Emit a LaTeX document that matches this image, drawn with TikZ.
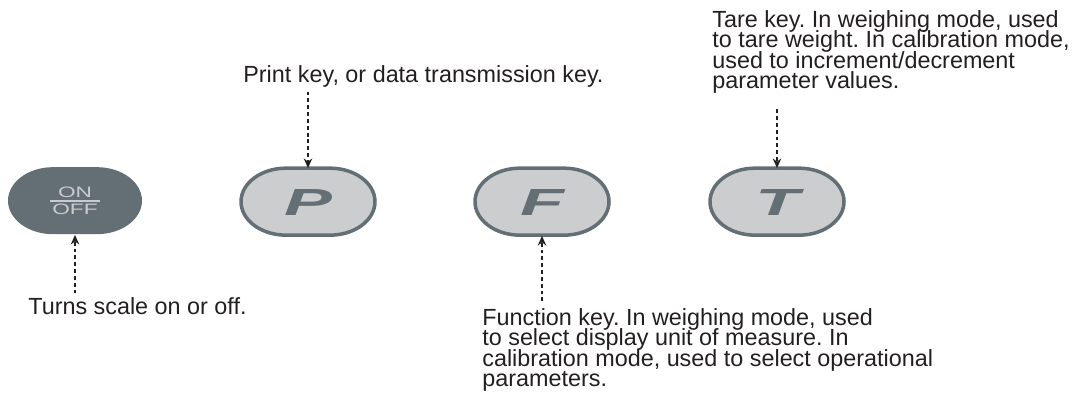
\documentclass[tikz,border=0pt]{standalone}
\usepackage{fontspec}
\setmainfont{Liberation Sans}
\newfontfamily\keyfont[FakeStretch=1.9]{Liberation Sans Bold Italic}
\newfontfamily\switchfont[FakeStretch=1.5]{Liberation Sans}
\usetikzlibrary{arrows.meta,calc,positioning}
\pgfdeclarelayer{background}
\pgfsetlayers{background,main}
\definecolor{keydark}{RGB}{100,111,117}
\definecolor{keylight}{RGB}{204,205,207}
\definecolor{keylabel}{RGB}{200,204,206}
\definecolor{inkblack}{RGB}{35,31,32}
\newcommand\notefont{\fontsize{13.3}{11.7}\selectfont\lineskiplimit=-\maxdimen\frenchspacing}

\begin{document}
\begin{tikzpicture}[x=0.02cm, y=-0.02cm,
    keynode/.style={minimum width=2.68cm, minimum height=1.34cm, inner sep=0pt},
    keysolid/.style={fill=keydark},
    keyrim/.style={fill=keylight, draw=keydark, line width=2pt},
    keyletter/.style={keynode, text=keydark, font=\keyfont\fontsize{21.5}{21.5}\selectfont},
    note/.style={anchor=north west, inner sep=0pt, align=left, text=inkblack, font=\notefont},
    callout/.style={draw=inkblack, line width=0.85pt, dash pattern=on 2.2pt off 1.7pt,
        -{Stealth[length=5.5pt, width=4.8pt, inset=1.8pt]}}]
    \useasboundingbox (0,0) rectangle (1081,397);

    % Keys
    \node[keynode, text=keylabel, align=center, font=\switchfont\fontsize{8.6}{8.6}\selectfont]
        (onoff) at (75,201) {ON\\[-6pt]\rule{1cm}{0.9pt}\\[-1.2pt]OFF};
    \node[keyletter] (print) at (308,202) {P};
    \node[keyletter] (func) at (542,202) {F};
    \node[keyletter] (tare) at (777,202) {T};

    % Key outlines (behind the letters)
    \begin{pgfonlayer}{background}
        \foreach \k/\s in {onoff/keysolid, print/keyrim, func/keyrim, tare/keyrim}
            \path[\s] ($(\k.north)+(-0.44cm,0)$) -- ++(0.88cm,0)
                arc[start angle=90, end angle=-90, x radius=0.9cm, y radius=0.67cm]
                -- ++(-0.88cm,0)
                arc[start angle=270, end angle=90, x radius=0.9cm, y radius=0.67cm] -- cycle;
    \end{pgfonlayer}

    % Notes
    \node[note] (printnote) at (243,65) {Print key, or data transmission key.};
    \node[note] (tarenote) at (712,10) {Tare key. In weighing mode, used\\
        to tare weight. In calibration mode,\\
        used to increment/decrement\\
        parameter values.};
    \node[note] (onoffnote) at (28,297) {Turns scale on or off.};
    \node[note] (funcnote) at (482,308) {Function key. In weighing mode, used\\
        to select display unit of measure. In\\
        calibration mode, used to select operational\\
        parameters.};

    % Callouts
    \draw[callout, shorten <=2.3pt] (printnote.south -| print.north) -- (print.north);
    \draw[callout, shorten <=8.5pt] (tarenote.south -| tare.north) -- (tare.north);
    \draw[callout, shorten <=2pt] (onoffnote.north -| onoff.south) -- (onoff.south);
    \draw[callout, shorten <=3.8pt] (funcnote.north -| func.south) -- (func.south);
\end{tikzpicture}
\end{document}
